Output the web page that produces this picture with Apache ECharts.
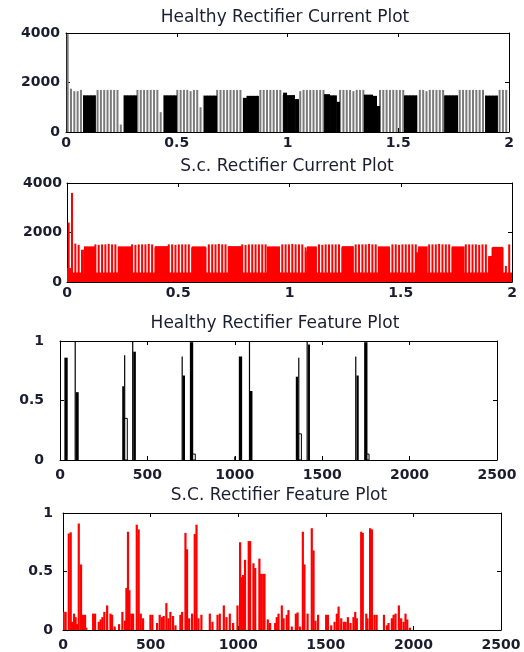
<!DOCTYPE html>
<html>
<head>
<meta charset="utf-8">
<script src="https://cdn.jsdelivr.net/npm/echarts@6/dist/echarts.min.js"></script>
<style>
  html, body { margin: 0; padding: 0; background: #fff; }
  #chart { width: 524px; height: 652px; }
</style>
</head>
<body>
<div id="chart"></div>
<script>
  // ---- data ----
  const titles = ['Healthy Rectifier Current Plot', 'S.c. Rectifier Current Plot',
                  'Healthy Rectifier Feature Plot', 'S.C. Rectifier Feature Plot'];

  const currentTicksX = [0, 0.5, 1, 1.5, 2];
  const currentTicksY = [0, 2000, 4000];
  const featureTicksX = [0, 500, 1000, 1500, 2000, 2500];
  const featureTicksY = [0, 0.5, 1];

  // current samples, one every SAMPLE_STEP seconds (first one half a step in)
  const SAMPLE_STEP = 0.015;
  const healthyCurrent = [
    3950, 1750, 1650, 1650, 1700, 1480, 1480, 1480, 1480, 1700,
    1700, 1700, 1700, 1700, 1700, 1700, 300, 1480, 1480, 1480,
    1480, 1700, 1700, 1700, 1700, 1700, 1700, 1700, 800, 1480,
    1480, 1480, 1480, 1700, 1700, 1700, 1700, 1650, 1700, 1700,
    1000, 1470, 1470, 1470, 1470, 1700, 1700, 1700, 1700, 1700,
    1700, 1700, 1700, 1380, 1460, 1460, 1460, 1460, 1700, 1700,
    1700, 1700, 1700, 1700, 1700, 1490, 1490, 1490, 1490, 1330,
    1650, 1700, 1700, 1700, 1700, 1700, 1700, 1700, 1480, 1480,
    1480, 1220, 1700, 1700, 1700, 1700, 1650, 1700, 1700, 1700,
    1460, 1460, 1460, 1050, 1700, 1700, 1700, 1700, 1700, 1700,
    1700, 1700, 1480, 1480, 1480, 1480, 1700, 1700, 1650, 1700,
    1700, 1700, 1700, 1700, 1480, 1480, 1480, 1480, 1700, 1700,
    1700, 1700, 1700, 1700, 1700, 1700, 1470, 1470, 1470, 1470,
    1700, 1700, 1700
  ];
  // dense parts of the healthy trace: [from, to, top]
  const healthyBlocks = [
    [0.077, 0.135, 1480], [0.262, 0.321, 1480], [0.442, 0.501, 1480],
    [0.623, 0.682, 1470], [0.799, 0.817, 1380], [0.817, 0.871, 1460],
    [0.980, 0.998, 1590], [0.998, 1.034, 1490], [1.034, 1.052, 1330],
    [1.165, 1.192, 1530], [1.192, 1.223, 1480], [1.223, 1.237, 1220],
    [1.345, 1.386, 1510], [1.386, 1.404, 1460], [1.404, 1.418, 1050],
    [1.526, 1.585, 1480], [1.707, 1.770, 1480], [1.892, 1.950, 1470]
  ];

  const scCurrent = [
    2400, 3600, 1550, 1500, 1300, 1400, 1400, 1400, 1520, 1500,
    1520, 1520, 1540, 1520, 1520, 1400, 1400, 1400, 1400, 1520,
    1500, 1520, 1520, 1520, 1540, 1520, 1400, 1400, 1400, 1400,
    1520, 1520, 1500, 1520, 1520, 1520, 1520, 1400, 1400, 1400,
    1400, 1400, 1520, 1520, 1520, 1540, 1520, 1520, 1400, 1400,
    1400, 1400, 1520, 1500, 1520, 1520, 1520, 1520, 1520, 1520,
    1400, 1400, 1400, 1400, 1520, 1520, 1520, 1540, 1520, 1520,
    1520, 1400, 1400, 1400, 1400, 1520, 1500, 1520, 1520, 1520,
    1520, 1520, 1400, 1400, 1400, 1400, 1520, 1520, 1520, 1520,
    1540, 1520, 1520, 1400, 1400, 1400, 1400, 1520, 1520, 1500,
    1520, 1520, 1520, 1520, 1520, 1400, 1400, 1400, 1520, 1520,
    1520, 1540, 1520, 1520, 1520, 1400, 1400, 1400, 1400, 1520,
    1520, 1520, 1520, 1500, 1520, 1520, 1000, 1400, 1400, 1400,
    1400, 650, 1520
  ];
  const scBlocks = [
    [0, 2, 380], [0, 0.025, 560], [0.068, 0.076, 1300], [0.076, 0.126, 1440],
    [0.229, 0.292, 1440], [0.395, 0.458, 1450], [0.561, 0.624, 1440],
    [0.723, 0.786, 1450], [0.898, 0.957, 1440], [1.069, 1.078, 1250],
    [1.078, 1.123, 1440], [1.235, 1.289, 1450], [1.397, 1.451, 1440],
    [1.568, 1.578, 1200], [1.578, 1.621, 1440], [1.729, 1.787, 1440],
    [1.893, 1.912, 1050], [1.912, 1.958, 1420]
  ];

  // healthy feature: filled bars, open bars [from, to, value], spikes [index, value]
  const healthyFeatBars = [
    [25, 44, 0.86], [90, 107, 0.57], [356, 366, 0.62], [419, 434, 0.91],
    [701, 715, 0.71], [743, 762, 0.99], [1023, 1042, 0.87], [1086, 1101, 0.58],
    [1349, 1362, 0.70], [1419, 1430, 0.97], [1696, 1709, 0.71], [1740, 1759, 0.99]
  ];
  const healthyFeatOpen = [[366, 385, 0.35], [755, 774, 0.05], [1362, 1381, 0.22], [1749, 1768, 0.05]];
  const healthyFeatSpikes = [
    [87, 1.0], [370, 0.88], [416, 1.0], [699, 0.87], [1000, 0.03],
    [1084, 1.0], [1366, 0.86], [1414, 1.0], [1692, 0.87]
  ];

  const scFeatIdx = [
    4, 15, 33, 44, 52, 63, 72, 80, 90, 103, 114, 126, 133,
    172, 183, 204, 215, 225, 236, 252, 271, 280, 295, 320, 339, 354, 362, 371, 379, 390, 400, 421, 432, 444, 457,
    499, 510, 537, 552, 564, 575, 590, 602, 613, 628, 642, 670, 680, 699, 708, 720, 737, 752, 762, 773, 790,
    838, 853, 882, 895, 918, 933, 952, 971, 996,
    1011, 1020, 1028, 1039, 1060, 1068, 1087, 1097, 1121, 1131, 1143, 1150,
    1169, 1182, 1211, 1220, 1230, 1249, 1259, 1277, 1287, 1306, 1329, 1339, 1352, 1369, 1378, 1396, 1420, 1430, 1441, 1456,
    1502, 1512, 1531, 1550, 1563, 1573, 1588, 1603, 1613, 1626, 1641, 1658, 1668, 1677, 1702, 1711, 1731, 1738, 1753, 1763, 1778, 1790,
    1832, 1849, 1858, 1877, 1887, 1898, 1917, 1930, 1944, 1955, 1965, 1980
  ];
  const scFeatVal = [
    0.155, 0.155, 0.825, 0.835, 0.07, 0.14, 0.11, 0.05, 0.91, 0.56, 0.13, 0.13, 0.02,
    0.14, 0.14, 0.07, 0.09, 0.11, 0.155, 0.21, 0.14, 0.13, 0.03, 0.05, 0.155, 0.08, 0.36, 0.84, 0.34, 0.14, 0.14, 0.90, 0.86, 0.14, 0.10,
    0.13, 0.13, 0.06, 0.13, 0.11, 0.12, 0.23, 0.10, 0.155, 0.12, 0.04, 0.13, 0.155, 0.83, 0.69, 0.10, 0.14, 0.82, 0.90, 0.10, 0.13,
    0.14, 0.07, 0.13, 0.14, 0.21, 0.11, 0.14, 0.06, 0.21,
    0.75, 0.45, 0.47, 0.60, 0.76, 0.76, 0.57, 0.53, 0.61, 0.48, 0.48, 0.48,
    0.09, 0.06, 0.06, 0.11, 0.14, 0.21, 0.10, 0.13, 0.17, 0.03, 0.14, 0.15, 0.03, 0.84, 0.56, 0.14, 0.87, 0.68, 0.08, 0.13,
    0.13, 0.13, 0.04, 0.07, 0.14, 0.20, 0.10, 0.07, 0.07, 0.11, 0.06, 0.11, 0.155, 0.10, 0.84, 0.83, 0.14, 0.10, 0.87, 0.86, 0.13, 0.13,
    0.13, 0.04, 0.06, 0.10, 0.13, 0.14, 0.21, 0.10, 0.07, 0.14, 0.09, 0.02
  ];

  // ---- drawing ----
  const chart = echarts.init(document.getElementById('chart'));
  const textColor = '#1c1c30';
  const labelFont = {
    color: textColor, fontFamily: 'DejaVu Sans', fontWeight: 'bold', fontSize: 14,
    formatter: v => String(v)
  };

  const samples = arr => arr.map((v, i) => [(i + 0.5) * SAMPLE_STEP, v]);

  function rectItem(color, open) {
    return function (params, api) {
      const a = api.coord([api.value(0), api.value(2)]);
      const b = api.coord([api.value(1), 0]);
      return {
        type: 'rect',
        shape: { x: a[0], y: a[1], width: b[0] - a[0], height: b[1] - a[1] },
        style: open ? { fill: 'none', stroke: color, lineWidth: 1 } : { fill: color }
      };
    };
  }
  function stemItem(color, w) {
    return function (params, api) {
      const a = api.coord([api.value(0), api.value(1)]);
      const b = api.coord([api.value(0), 0]);
      return {
        type: 'rect',
        shape: { x: a[0] - w / 2, y: a[1], width: w, height: b[1] - a[1] },
        style: { fill: color }
      };
    };
  }

  const grids = [
    { left: 66, top: 33, width: 443, height: 99 },
    { left: 67, top: 183, width: 445, height: 99 },
    { left: 60, top: 341, width: 437, height: 119 },
    { left: 63, top: 513, width: 438, height: 118 }
  ];
  const xMargins = [4, 4, 8, 8];
  const yMargins = [6, 5, 16, 10];

  const xAxis = [], yAxis = [];
  grids.forEach((g, gi) => {
    const tx = gi < 2 ? currentTicksX : featureTicksX;
    const ty = gi < 2 ? currentTicksY : featureTicksY;
    const base = {
      type: 'value', gridIndex: gi,
      axisLine: { show: true, onZero: false, lineStyle: { color: '#000', width: 1 } },
      axisTick: { show: true, inside: true, length: 4, lineStyle: { color: '#000' } },
      splitLine: { show: false }
    };
    const xr = { min: tx[0], max: tx[tx.length - 1], interval: tx[1] - tx[0] };
    const yr = { min: ty[0], max: ty[ty.length - 1], interval: ty[1] - ty[0] };
    xAxis.push(Object.assign({}, base, xr, { position: 'bottom', axisLabel: Object.assign({ margin: xMargins[gi] }, labelFont) }));
    xAxis.push(Object.assign({}, base, xr, { position: 'top', axisLabel: { show: false } }));
    yAxis.push(Object.assign({}, base, yr, { position: 'left', axisLabel: Object.assign({ margin: yMargins[gi] }, labelFont) }));
    yAxis.push(Object.assign({}, base, yr, { position: 'right', axisLabel: { show: false } }));
  });

  const titlePos = [[285, 9], [287, 158], [275, 315], [279, 487]];
  const title = titles.map((t, i) => ({
    text: t, left: titlePos[i][0], top: titlePos[i][1], textAlign: 'center', padding: 0,
    textStyle: { color: textColor, fontFamily: 'DejaVu Sans', fontWeight: 'normal', fontSize: 17 }
  }));

  const on = gi => ({ xAxisIndex: gi * 2, yAxisIndex: gi * 2, clip: true, silent: true });

  const series = [
    Object.assign({ type: 'custom', name: 'healthy current', renderItem: stemItem('#7a7a7a', 2), data: samples(healthyCurrent) }, on(0)),
    Object.assign({ type: 'custom', name: 'healthy dense', renderItem: rectItem('#000'), data: healthyBlocks }, on(0)),
    Object.assign({ type: 'custom', name: 'sc current', renderItem: stemItem('#ff0000', 2), data: samples(scCurrent) }, on(1)),
    Object.assign({ type: 'custom', name: 'sc dense', renderItem: rectItem('#ff0000'), data: scBlocks }, on(1)),
    Object.assign({ type: 'custom', name: 'healthy feature', renderItem: rectItem('#000'), data: healthyFeatBars }, on(2)),
    Object.assign({ type: 'custom', name: 'healthy feature open', renderItem: rectItem('#000', true), data: healthyFeatOpen }, on(2)),
    Object.assign({ type: 'custom', name: 'healthy feature spikes', renderItem: stemItem('#000', 1.2), data: healthyFeatSpikes }, on(2)),
    Object.assign({ type: 'custom', name: 'sc feature', renderItem: stemItem('#ff0000', 2.2),
      data: scFeatIdx.map((x, i) => [x, scFeatVal[i]]) }, on(3))
  ];

  chart.setOption({
    animation: false,
    backgroundColor: '#fff',
    title: title,
    grid: grids,
    xAxis: xAxis,
    yAxis: yAxis,
    series: series
  });
  window.addEventListener('resize', () => { chart.resize(); });
</script>
</body>
</html>
